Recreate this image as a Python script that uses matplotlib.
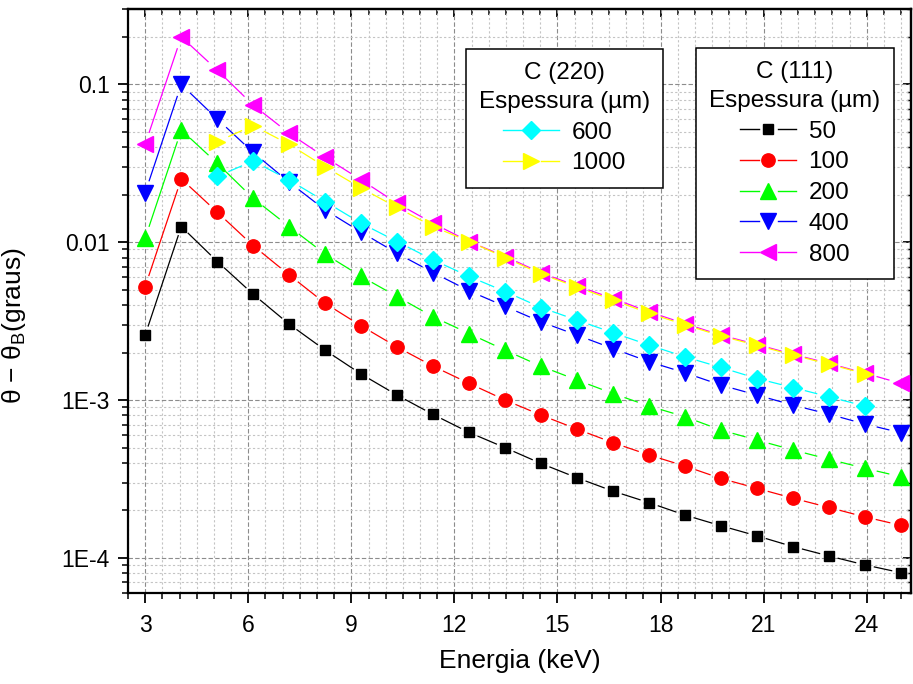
import numpy as np
import matplotlib
matplotlib.use("Agg")
import matplotlib.pyplot as plt
from matplotlib.collections import LineCollection
from matplotlib.lines import Line2D
from matplotlib.legend_handler import HandlerBase
from matplotlib.ticker import FixedLocator, FixedFormatter, MultipleLocator, LogLocator, NullFormatter

plt.rcParams['font.family'] = ['Liberation Sans', 'DejaVu Sans']
plt.rcParams['mathtext.fontset'] = 'custom'
plt.rcParams['mathtext.rm'] = 'Liberation Sans'
plt.rcParams['mathtext.it'] = 'Liberation Sans:italic'

# ---- data ----
energia = [3.00, 4.05, 5.10, 6.14, 7.19, 8.24, 9.29, 10.33, 11.38, 12.43, 13.48,
           14.52, 15.57, 16.62, 17.67, 18.71, 19.76, 20.81, 21.86, 22.90, 23.95, 25.00]
energia_220 = [5.10, 6.14, 7.19, 8.24, 9.29, 10.33, 11.38, 12.43, 13.48, 14.52,
               15.57, 16.62, 17.67, 18.71, 19.76, 20.81, 21.86, 22.90, 23.95]

c111_50 = [0.00258, 0.01257, 0.00755, 0.00469, 0.00303, 0.00207, 0.00146, 0.001076, 0.000811,
           0.000624, 0.000499, 0.000397, 0.000322, 0.000265, 0.000224, 0.000187, 0.000160,
           0.000138, 0.000118, 0.000103, 0.0000904, 0.0000807]
c111_100 = [0.00524, 0.0252, 0.01549, 0.00953, 0.00621, 0.0041, 0.00295, 0.00217, 0.00164,
            0.001276, 0.00100, 0.000804, 0.000655, 0.000537, 0.000449, 0.000382, 0.000319,
            0.000276, 0.000239, 0.000209, 0.000182, 0.000161]
c111_200 = [0.0106, 0.0514, 0.0316, 0.0190, 0.01257, 0.0084, 0.00607, 0.00453, 0.00337,
            0.00264, 0.00207, 0.00164, 0.00134, 0.00110, 0.000916, 0.000785, 0.000646,
            0.000558, 0.000483, 0.000422, 0.000370, 0.000327]
c111_400 = [0.0206, 0.0998, 0.0603, 0.0371, 0.0240, 0.0160, 0.01157, 0.00851, 0.00643,
            0.00492, 0.00392, 0.00313, 0.00258, 0.00212, 0.00175, 0.00149, 0.001245,
            0.001076, 0.000929, 0.000815, 0.000705, 0.000621]
c111_800 = [0.0417, 0.200, 0.123, 0.0740, 0.0490, 0.0345, 0.0248, 0.01766, 0.01318,
            0.0101, 0.00812, 0.0064, 0.00529, 0.0044, 0.00362, 0.00305, 0.00258,
            0.00225, 0.00195, 0.00171, 0.00148, 0.001276]
c220_600 = [0.0261, 0.0327, 0.0248, 0.01808, 0.01318, 0.0101, 0.00773, 0.00607, 0.00487,
            0.00386, 0.00321, 0.00267, 0.00223, 0.00188, 0.00161, 0.00137, 0.00120,
            0.00105, 0.000916]
c220_1000 = [0.0434, 0.0548, 0.0417, 0.0300, 0.0220, 0.0166, 0.01257, 0.0101, 0.0080,
             0.0063, 0.0052, 0.0043, 0.00355, 0.0030, 0.00255, 0.00222, 0.00193,
             0.00169, 0.00147]

ytick_vals = [1e-4, 1e-3, 1e-2, 1e-1]
ytick_labels = ["1E-4", "1E-3", "0.01", "0.1"]
xtick_vals = [3, 6, 9, 12, 15, 18, 21, 24]

FS_TICK = 16.5
FS_LAB = 19
FS_LEG = 17.5

fig = plt.figure(figsize=(9.13, 6.84), dpi=100)
ax = fig.add_axes([0.1402, 0.133, 0.858, 0.8538])
ax.set_yscale("log")
ax.set_xlim(2.5, 25.3)
ax.set_ylim(6e-5, 0.3)

# (values, label, colour, marker, size, gap around marker in px)
s111 = [(c111_50, "50", "#000000", "s", 7.7, 9),
        (c111_100, "100", "#ff0000", "o", 9.6, 11),
        (c111_200, "200", "#00ff00", "^", 11.5, 12),
        (c111_400, "400", "#0000ff", "v", 11.5, 12),
        (c111_800, "800", "#ff00ff", "<", 12, 12)]
s220 = [(c220_600, "600", "#00ffff", "D", 9, 12),
        (c220_1000, "1000", "#ffff00", ">", 12, 12)]


def gapped(x, y, gap):
    # Origin-style connecting line: each segment stops short of the symbols
    pts = ax.transData.transform(np.column_stack([x, y]))
    inv = ax.transData.inverted()
    segs = []
    for p, q in zip(pts[:-1], pts[1:]):
        d = q - p
        L = np.hypot(*d)
        if L <= 2 * gap:
            continue
        u = d / L
        segs.append(inv.transform(np.array([p + u * gap, q - u * gap])))
    return segs


class GapHandler(HandlerBase):
    def create_artists(self, legend, orig, xd, yd, w, h, fs, trans):
        y = h / 2 - yd
        x0 = -xd
        col = orig.get_color()
        g = 0.17 * w
        a = Line2D([x0, x0 + w / 2 - g], [y, y], color=col, lw=1.0)
        b = Line2D([x0 + w / 2 + g, x0 + w], [y, y], color=col, lw=1.0)
        m = Line2D([x0 + w / 2], [y], ls="none", marker=orig.get_marker(),
                   ms=orig.get_markersize(), color=col)
        for art in (a, b, m):
            art.set_transform(trans)
        return [a, b, m]


def draw(series, xs, z):
    hs = []
    for vals, lab, col, mk, ms, gap in series:
        ax.add_collection(LineCollection(gapped(xs, vals, gap), colors=col,
                                         linewidths=0.9, zorder=z))
        h, = ax.plot(xs, vals, ls="none", color=col, marker=mk, ms=ms,
                     mec=col, mfc=col, label=lab, zorder=z + 0.5)
        hs.append(h)
    return hs


h111 = draw(s111, energia, 3)
h220 = draw(s220, energia_220, 4)

ax.xaxis.set_major_locator(FixedLocator(xtick_vals))
ax.xaxis.set_minor_locator(MultipleLocator(0.5))
ax.yaxis.set_major_locator(FixedLocator(ytick_vals))
ax.yaxis.set_major_formatter(FixedFormatter(ytick_labels))
ax.yaxis.set_minor_locator(LogLocator(base=10, subs=np.arange(2, 10)))
ax.yaxis.set_minor_formatter(NullFormatter())

ax.grid(True, which="major", color="#8c8c8c", ls=(0, (4, 2)), lw=0.8, zorder=0)
ax.grid(True, which="minor", color="#c4c4c4", ls=(0, (2, 2)), lw=0.8, zorder=0)
ax.set_axisbelow(True)

for sp in ax.spines.values():
    sp.set_linewidth(1.6)
ax.tick_params(which="major", direction="out", length=7, width=1.3, labelsize=FS_TICK)
ax.tick_params(which="minor", direction="out", length=4, width=1.1)
ax.tick_params(axis="x", which="major", pad=8)
ax.tick_params(axis="y", which="major", pad=6)

# mirrored axes, ticks pointing in
top = ax.secondary_xaxis("top")
top.xaxis.set_major_locator(FixedLocator(xtick_vals))
top.xaxis.set_minor_locator(MultipleLocator(0.5))
top.tick_params(which="major", direction="in", length=6, width=1.3, labeltop=False)
top.tick_params(which="minor", direction="in", length=4, width=1.1)
top.spines["top"].set_linewidth(1.6)
right = ax.secondary_yaxis("right")
right.yaxis.set_major_locator(FixedLocator(ytick_vals))
right.yaxis.set_minor_locator(LogLocator(base=10, subs=np.arange(2, 10)))
right.yaxis.set_minor_formatter(NullFormatter())
right.tick_params(which="major", direction="in", length=6, width=1.3, labelright=False)
right.tick_params(which="minor", direction="in", length=3, width=1.0)
right.spines["right"].set_linewidth(1.6)

ax.set_xlabel("Energia (keV)", fontsize=FS_LAB, labelpad=9)
ax.set_ylabel(r"θ − θ$_\mathrm{B}$(graus)", fontsize=FS_LAB)
ax.yaxis.set_label_coords(-0.128, 0.457)

leg_kw = dict(fontsize=FS_LEG, title_fontsize=FS_LEG, frameon=True, fancybox=False,
              framealpha=1, edgecolor="black", numpoints=1, handlelength=2.3,
              handletextpad=0.5, borderpad=0.55, labelspacing=0.36, borderaxespad=0,
              loc="upper left", handler_map={Line2D: GapHandler()})
leg1 = ax.legend(handles=h220, title="C (220)\nEspessura (µm)",
                 bbox_to_anchor=(0.431, 0.932), **leg_kw)
ax.add_artist(leg1)
leg2 = ax.legend(handles=h111, title="C (111)\nEspessura (µm)",
                 bbox_to_anchor=(0.725, 0.934), **leg_kw)
for lg in (leg1, leg2):
    lg.get_frame().set_linewidth(1.1)
    lg.get_title().set_multialignment("center")
    lg.get_title().set_linespacing(1.4)

fig.savefig("out.png", dpi=100)
